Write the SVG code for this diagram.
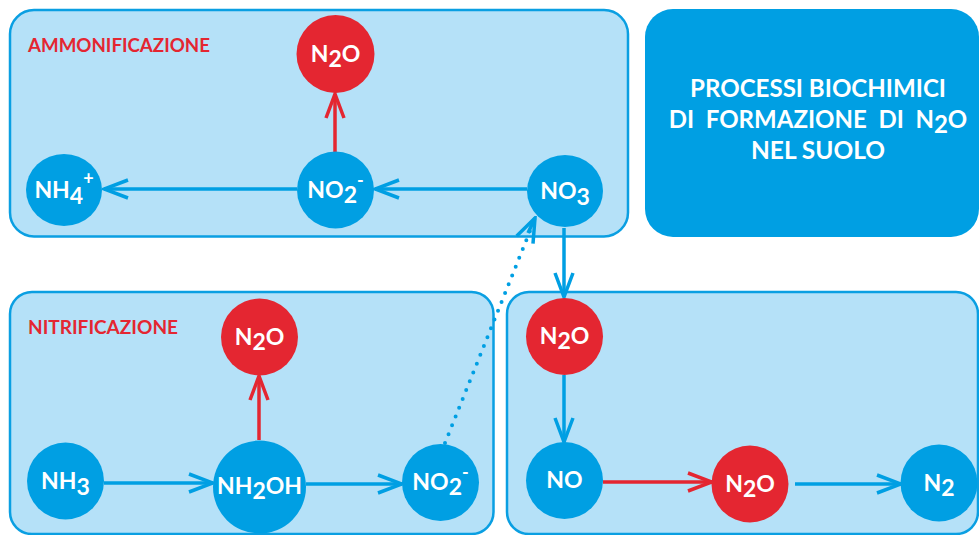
<svg xmlns="http://www.w3.org/2000/svg" width="979" height="535" viewBox="0 0 979 535">
<style>
.panel{fill:#b5e1f8;stroke:#0a9fe2;stroke-width:2.5}
.blue{fill:#009fe3}
.red{fill:#e42631}
.lbl{font-family:Lato,"Open Sans","Liberation Sans",sans-serif;font-weight:bold;font-size:23px;fill:#ffffff;text-anchor:middle}
.title{font-family:Lato,"Open Sans","Liberation Sans",sans-serif;font-weight:bold;font-size:18px;fill:#e42631}
.head{font-family:Lato,"Open Sans","Liberation Sans",sans-serif;font-weight:bold;font-size:24px;fill:#ffffff;text-anchor:middle}
.cb{fill:none;stroke:#009fe3;stroke-width:3.5}
.cr{fill:none;stroke:#e42631;stroke-width:3.5}
.dot{fill:none;stroke:#009fe3;stroke-width:4;stroke-linecap:round;stroke-dasharray:0 9.5}
</style>
<defs>
<marker id="ahb" viewBox="0 0 28 22" refX="26" refY="11" markerWidth="28" markerHeight="22" markerUnits="userSpaceOnUse" orient="auto">
<path d="M2,2 L26,11 L2,20" fill="none" stroke="#009fe3" stroke-width="3.5"/>
</marker>
<marker id="ahr" viewBox="0 0 28 22" refX="26" refY="11" markerWidth="28" markerHeight="22" markerUnits="userSpaceOnUse" orient="auto">
<path d="M2,2 L26,11 L2,20" fill="none" stroke="#e42631" stroke-width="3.5"/>
</marker>
</defs>
<rect width="979" height="535" fill="#ffffff"/>

<g id="panel-ammonificazione">
<rect class="panel" x="10" y="10" width="618" height="226.5" rx="24"/>
<text class="title" x="28" y="52" textLength="182" lengthAdjust="spacingAndGlyphs">AMMONIFICAZIONE</text>
</g>
<g id="panel-nitrificazione">
<rect class="panel" x="10" y="292" width="483.5" height="242" rx="22"/>
<text class="title" x="28" y="334" textLength="150" lengthAdjust="spacingAndGlyphs">NITRIFICAZIONE</text>
</g>
<g id="panel-denitrificazione">
<rect class="panel" x="507" y="292" width="471" height="242" rx="22"/>
</g>
<g id="header">
<rect x="645" y="9" width="334" height="228" rx="28" fill="#009fe3"/>
<text class="head" x="818" y="97" textLength="256" lengthAdjust="spacingAndGlyphs">PROCESSI BIOCHIMICI</text>
<text class="head" x="818" y="128" xml:space="preserve">DI  FORMAZIONE  DI  N<tspan dy="5">2</tspan><tspan dy="-5">O</tspan></text>
<text class="head" x="818" y="159" textLength="134" lengthAdjust="spacingAndGlyphs">NEL SUOLO</text>
</g>

<g id="connectors">
<line class="cb" x1="527" y1="189" x2="375" y2="189" marker-end="url(#ahb)"/>
<line class="cb" x1="297" y1="189" x2="104" y2="189" marker-end="url(#ahb)"/>
<line class="cr" x1="335" y1="152" x2="335" y2="94" marker-end="url(#ahr)"/>
<line class="cb" x1="564" y1="228" x2="564" y2="297" marker-end="url(#ahb)"/>
<line class="dot" x1="445" y1="443" x2="532" y2="226"/>
<line class="cb" x1="528" y1="233" x2="535" y2="218" stroke="none" marker-end="url(#ahb)"/>
<line class="cb" x1="104" y1="483" x2="213" y2="483" marker-end="url(#ahb)"/>
<line class="cb" x1="306" y1="484" x2="402" y2="484" marker-end="url(#ahb)"/>
<line class="cr" x1="259" y1="440" x2="259" y2="376" marker-end="url(#ahr)"/>
<line class="cb" x1="564" y1="375" x2="564" y2="442" marker-end="url(#ahb)"/>
<line class="cr" x1="603" y1="482" x2="712" y2="482" marker-end="url(#ahr)"/>
<line class="cb" x1="795" y1="484" x2="901" y2="484" marker-end="url(#ahb)"/>
</g>

<g id="n2o-amm">
<circle class="red" cx="335.5" cy="54" r="39"/>
<text class="lbl" x="335.5" y="62">N<tspan dy="5">2</tspan><tspan dy="-5">O</tspan></text>
</g>
<g id="nh4-amm">
<ellipse class="blue" cx="64" cy="190" rx="38" ry="36"/>
<text class="lbl" x="64" y="198">NH<tspan dy="6">4</tspan><tspan dy="-19" font-size="18">+</tspan></text>
</g>
<g id="no2-amm">
<circle class="blue" cx="335.5" cy="190" r="38.5"/>
<text class="lbl" x="335.5" y="198">NO<tspan dy="5">2</tspan><tspan dy="-16" font-size="18">-</tspan></text>
</g>
<g id="no3-amm">
<ellipse class="blue" cx="565" cy="191" rx="38" ry="36"/>
<text class="lbl" x="565" y="199">NO<tspan dy="6">3</tspan></text>
</g>

<g id="n2o-nit">
<circle class="red" cx="259.5" cy="337" r="38.5"/>
<text class="lbl" x="259.5" y="345">N<tspan dy="5">2</tspan><tspan dy="-5">O</tspan></text>
</g>
<g id="nh3-nit">
<circle class="blue" cx="65.5" cy="481" r="38.5"/>
<text class="lbl" x="65.5" y="489">NH<tspan dy="6">3</tspan></text>
</g>
<g id="nh2oh-nit">
<circle class="blue" cx="259.5" cy="487" r="46.5"/>
<text class="lbl" x="259.5" y="494">NH<tspan dy="5">2</tspan><tspan dy="-5">OH</tspan></text>
</g>
<g id="no2-nit">
<circle class="blue" cx="440.5" cy="482.5" r="38.5"/>
<text class="lbl" x="440.5" y="490">NO<tspan dy="5">2</tspan><tspan dy="-16" font-size="18">-</tspan></text>
</g>

<g id="n2o-den1">
<circle class="red" cx="564.5" cy="336.5" r="38.5"/>
<text class="lbl" x="564.5" y="344">N<tspan dy="5">2</tspan><tspan dy="-5">O</tspan></text>
</g>
<g id="no-den">
<circle class="blue" cx="564.5" cy="480.5" r="38.5"/>
<text class="lbl" x="564.5" y="488">NO</text>
</g>
<g id="n2o-den2">
<circle class="red" cx="750" cy="484" r="38.5"/>
<text class="lbl" x="750" y="492">N<tspan dy="5">2</tspan><tspan dy="-5">O</tspan></text>
</g>
<g id="n2-den">
<circle class="blue" cx="939" cy="483" r="38.5"/>
<text class="lbl" x="939" y="491">N<tspan dy="5">2</tspan></text>
</g>
</svg>
